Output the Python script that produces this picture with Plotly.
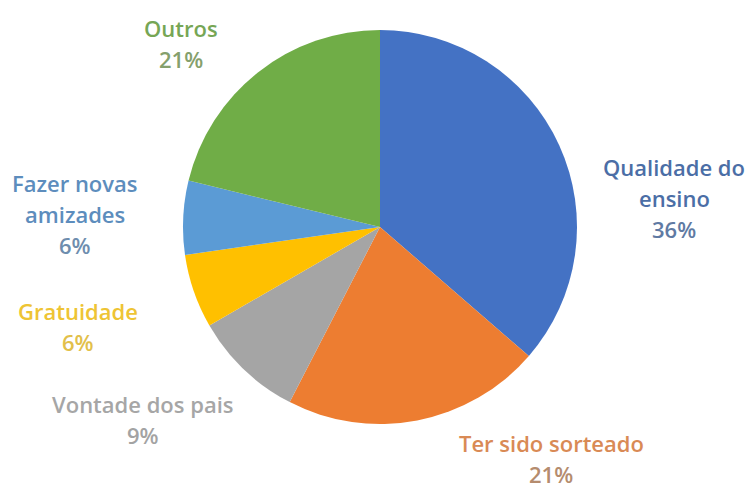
import plotly.graph_objects as go

# Motivos de escolha da escola
categorias = ["Qualidade do ensino", "Ter sido sorteado", "Vontade dos pais",
              "Gratuidade", "Fazer novas amizades", "Outros"]
percentuais = [36, 21, 9, 6, 6, 21]
cores = ["#4472C4", "#ED7D31", "#A5A5A5", "#FFC000", "#5B9BD5", "#70AD47"]
cores_nome = ["#4B6EA6", "#D98A55", "#A6A6A6", "#EEC434", "#5D8DBD", "#76A655"]
cores_pct = ["#5F7AA3", "#B58C6E", "#A3A3A3", "#E2C04A", "#6E8DAE", "#85A06C"]

# Linhas de cada rótulo (nome quebrado como no gráfico)
rotulos = [["Qualidade do", "ensino"], ["Ter sido sorteado"], ["Vontade dos pais"],
           ["Gratuidade"], ["Fazer novas", "amizades"], ["Outros"]]
# Centro horizontal e centro vertical da primeira linha de cada rótulo (px)
pos_rotulos = [(674, 167), (551, 443), (143, 404), (78, 311), (75, 183), (181, 28)]
ESPACO = 31

W, H = 749, 490
cx, cy, r = 380, 227, 197

fig = go.Figure(go.Pie(
    labels=categorias,
    values=percentuais,
    marker=dict(colors=cores, line=dict(width=0)),
    sort=False,
    direction="clockwise",
    rotation=0,
    textinfo="none",
    hoverinfo="label+percent",
    showlegend=False,
    domain=dict(x=[(cx - r) / W, (cx + r) / W], y=[(H - cy - r) / H, (H - cy + r) / H]),
))

for linhas, pct, cn, cp, (x, y) in zip(rotulos, percentuais, cores_nome, cores_pct, pos_rotulos):
    textos = linhas + [f"{pct}%"]
    for i, t in enumerate(textos):
        cor = cp if i == len(textos) - 1 else cn
        fig.add_annotation(
            x=x / W, y=1 - (y + i * ESPACO) / H, xref="paper", yref="paper",
            xanchor="center", yanchor="middle", showarrow=False,
            text=t, borderpad=0,
            font=dict(family="Open Sans", size=22, color=cor, weight=600),
        )

fig.update_layout(
    width=W, height=H,
    margin=dict(l=0, r=0, t=0, b=0),
    paper_bgcolor="white", plot_bgcolor="white",
)

fig.write_html("out.html")
